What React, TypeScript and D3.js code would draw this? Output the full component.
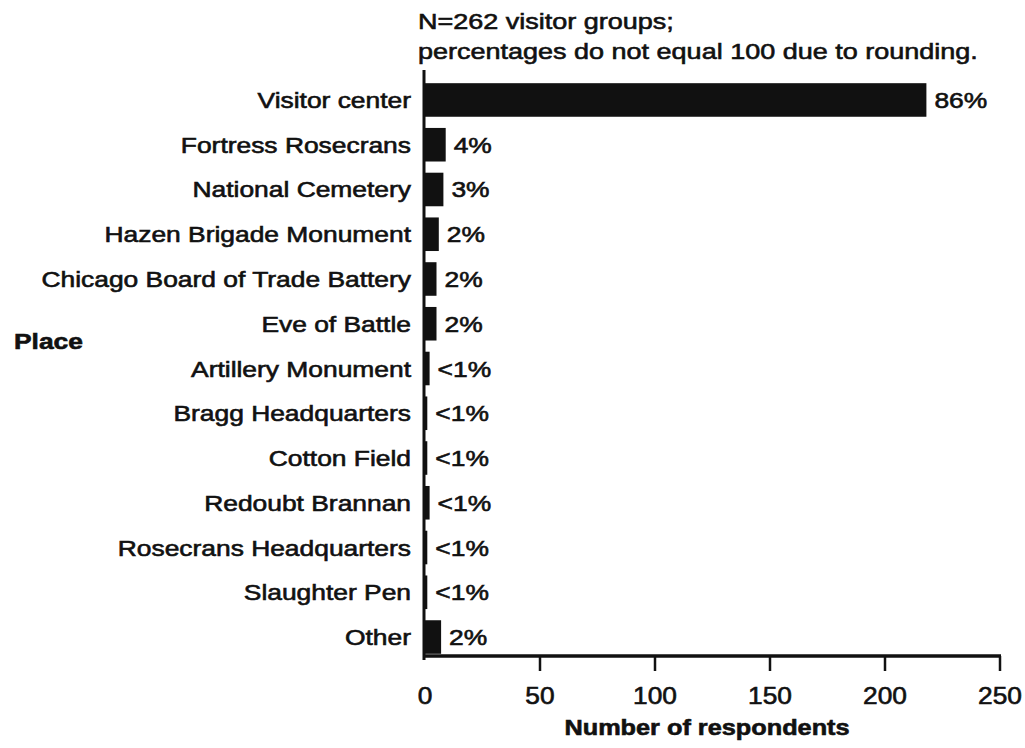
import React from "react";
import * as d3 from "d3";

const places = [
  "Visitor center",
  "Fortress Rosecrans",
  "National Cemetery",
  "Hazen Brigade Monument",
  "Chicago Board of Trade Battery",
  "Eve of Battle",
  "Artillery Monument",
  "Bragg Headquarters",
  "Cotton Field",
  "Redoubt Brannan",
  "Rosecrans Headquarters",
  "Slaughter Pen",
  "Other",
];
const respondents = [218, 9, 8, 6, 5, 5, 2, 1, 1, 2, 1, 1, 7];
const percentLabels = ["86%", "4%", "3%", "2%", "2%", "2%", "<1%", "<1%", "<1%", "<1%", "<1%", "<1%", "2%"];
const xTicks = [0, 50, 100, 150, 200, 250];
const titleLines = ["N=262 visitor groups;", "percentages do not equal 100 due to rounding."];
const xAxisTitle = "Number of respondents";
const yAxisTitle = "Place";

const FONT = "'Liberation Sans', Arial, Helvetica, sans-serif";
const SX = 1.2;
const INK = "#111";

function T({ x, y, children, anchor = "start", size = 22, bold = false, sx = SX }: any) {
  return (
    <g transform={`translate(${x},${y}) scale(${sx},1)`}>
      <text
        x={0}
        y={0}
        textAnchor={anchor}
        fontFamily={FONT}
        fontSize={size}
        fontWeight={bold ? "bold" : "normal"}
        fill={INK}
        stroke={INK}
        strokeWidth={0.6}
      >
        {children}
      </text>
    </g>
  );
}

export default function App() {
  const W = 1025;
  const H = 748;
  const x = d3.scaleLinear().domain([0, 250]).range([425, 1000]);
  const y = d3
    .scaleBand<string>()
    .domain(places)
    .range([72, 665])
    .paddingInner(0.25)
    .paddingOuter(0.25);
  const axisY = 656;
  const bw = y.bandwidth();

  return (
    <svg
      width={W}
      height={H}
      viewBox={`0 0 ${W} ${H}`}
      style={{ position: "absolute", left: 0, top: 0, background: "#fff" }}
    >
      <rect x={0} y={0} width={W} height={H} fill="#fff" />
      {titleLines.map((t, i) => (
        <T key={t} x={418} y={29 + i * 30} size={22.5}>
          {t}
        </T>
      ))}

      {/* bars */}
      {places.map((p, i) => (
        <rect
          key={p}
          x={x(0)}
          y={y(p)!}
          width={x(respondents[i]) - x(0)}
          height={bw}
          fill={INK}
        />
      ))}

      {/* y axis line */}
      <line x1={424} x2={424} y1={70} y2={axisY + 4} stroke={INK} strokeWidth={3} />
      {/* x axis line */}
      <line x1={423} x2={x(250) + 1} y1={axisY} y2={axisY} stroke={INK} strokeWidth={3.5} />
      {xTicks.map((t) => (
        <g key={t}>
          {t !== 0 && (
            <line x1={x(t)} x2={x(t)} y1={axisY} y2={axisY + 15} stroke={INK} strokeWidth={2.5} />
          )}
          <T x={x(t)} y={704} anchor="middle" size={23.5} sx={1.12}>
            {t}
          </T>
        </g>
      ))}

      {/* category labels */}
      {places.map((p) => (
        <T key={p} x={411} y={y(p)! + bw / 2 + 8} anchor="end">
          {p}
        </T>
      ))}

      {/* percentage labels */}
      {places.map((p, i) => (
        <T key={p} x={x(respondents[i]) + 8} y={y(p)! + bw / 2 + 8}>
          {percentLabels[i]}
        </T>
      ))}

      <T x={707} y={735} anchor="middle" bold sx={1.15}>
        {xAxisTitle}
      </T>
      <T x={14} y={349} bold>
        {yAxisTitle}
      </T>
    </svg>
  );
}
